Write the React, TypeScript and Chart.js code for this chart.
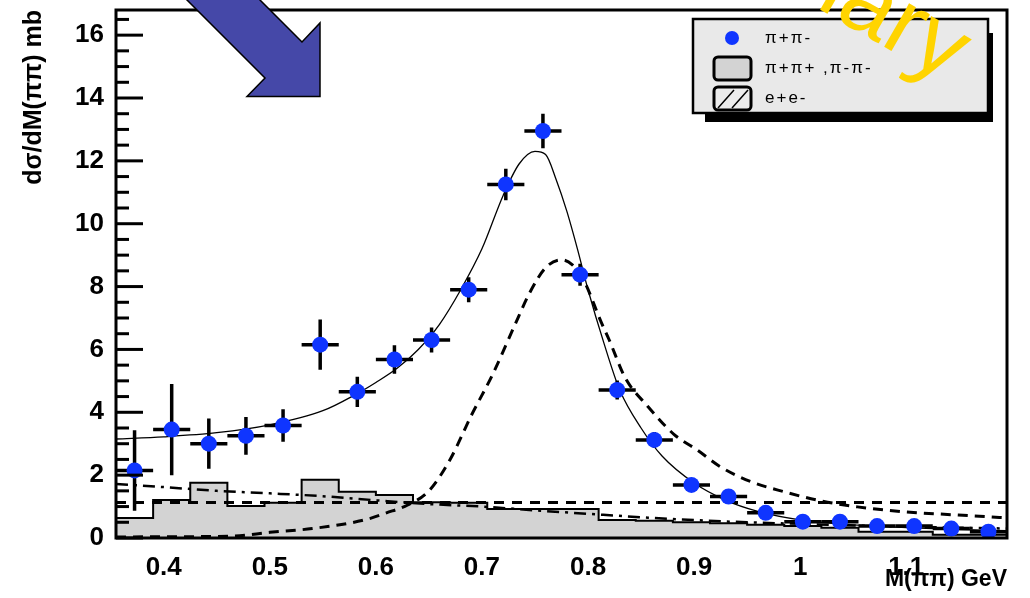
import React, { useEffect, useRef } from "react";
import { Chart, registerables } from "chart.js";

Chart.register(...registerables);

const FONT = '"Liberation Sans", Arial, Helvetica, sans-serif';

// Mass bins (GeV): edges and centres
const binEdges = [
  0.355, 0.39, 0.425, 0.46, 0.495, 0.53, 0.565, 0.6, 0.635, 0.67, 0.705, 0.74, 0.775,
  0.81, 0.845, 0.88, 0.915, 0.95, 0.985, 1.02, 1.055, 1.09, 1.125, 1.16, 1.195,
];
const massCenters = [
  0.3725, 0.4075, 0.4425, 0.4775, 0.5125, 0.5475, 0.5825, 0.6175, 0.6525, 0.6875, 0.7225,
  0.7575, 0.7925, 0.8275, 0.8625, 0.8975, 0.9325, 0.9675, 1.0025, 1.0375, 1.0725, 1.1075,
  1.1425, 1.1775,
];

// pi+pi- cross section (mb) and its errors
const sigmaPiPi = [
  2.15, 3.45, 3.0, 3.25, 3.58, 6.15, 4.65, 5.68, 6.3, 7.9, 11.25, 12.95, 8.38, 4.71, 3.12,
  1.69, 1.32, 0.8, 0.52, 0.52, 0.38, 0.38, 0.3, 0.2,
];
const sigmaErr = [
  1.28, 1.45, 0.8, 0.6, 0.52, 0.8, 0.48, 0.45, 0.4, 0.4, 0.5, 0.55, 0.35, 0.3, 0.25, 0.2,
  0.15, 0.12, 0.1, 0.1, 0.1, 0.1, 0.1, 0.1,
];

// like-sign pairs (pi+pi+, pi-pi-), one value per bin
const likeSign = [
  0.64, 1.21, 1.76, 1.02, 1.12, 1.85, 1.47, 1.37, 1.14, 1.12, 0.92, 0.92, 0.92, 0.57, 0.55,
  0.5, 0.47, 0.42, 0.38, 0.33, 0.2, 0.2, 0.1, 0.1,
];

// total fit
const fitMass = [
  0.355, 0.4, 0.45, 0.5, 0.55, 0.58, 0.6, 0.62, 0.64, 0.66, 0.68, 0.7, 0.72, 0.735, 0.75,
  0.76, 0.77, 0.78, 0.79, 0.8, 0.815, 0.83, 0.85, 0.87, 0.9, 0.93, 0.96, 1.0, 1.05, 1.1,
  1.15, 1.195,
];
const fitTotal = [
  3.15, 3.22, 3.35, 3.6, 4.05, 4.55, 4.95, 5.4, 6.0, 6.8, 7.9, 9.2, 10.9, 11.9, 12.3, 12.2,
  11.4, 10.4, 9.2, 7.9, 6.2, 4.7, 3.5, 2.6, 1.75, 1.2, 0.85, 0.58, 0.42, 0.33, 0.27, 0.23,
];

// rho component
const rhoMass = [
  0.355, 0.4, 0.465, 0.5, 0.54, 0.59, 0.61, 0.63, 0.65, 0.67, 0.69, 0.71, 0.73, 0.745,
  0.76, 0.775, 0.785, 0.796, 0.812, 0.82, 0.835, 0.856, 0.881, 0.903, 0.925, 0.953, 0.985,
  1.017, 1.054, 1.1, 1.149, 1.195,
];
const rhoCurve = [
  0.03, 0.04, 0.06, 0.18, 0.3, 0.58, 0.8, 1.05, 1.5, 2.5, 3.9, 5.2, 6.7, 7.8, 8.6, 8.85,
  8.7, 8.2, 6.9, 6.3, 5.1, 4.2, 3.3, 2.8, 2.26, 1.8, 1.47, 1.2, 0.99, 0.83, 0.73, 0.64,
];

// flat dashed level
const flatMass = [0.355, 1.195];
const flatLevel = [1.13, 1.13];

// dash-dotted background shape
const bkgMass = [
  0.355, 0.4, 0.45, 0.5, 0.55, 0.6, 0.65, 0.7, 0.75, 0.8, 0.85, 0.9, 0.95, 1.0, 1.05, 1.1,
  1.15, 1.195,
];
const bkgCurve = [
  1.72, 1.62, 1.5, 1.42, 1.33, 1.2, 1.08, 1.0, 0.88, 0.77, 0.66, 0.57, 0.5, 0.45, 0.4, 0.36,
  0.33, 0.3,
];

const xTicks = [0.4, 0.5, 0.6, 0.7, 0.8, 0.9, 1.0, 1.1];
const yTicks = [0, 2, 4, 6, 8, 10, 12, 14, 16];

const legendEntries = ["π+π-", "π+π+ ,π-π-", "e+e-"];

const BLUE = "#0f35ff";
const GREY = "#d3d3d3";

const errorBars = {
  id: "errorBars",
  beforeDatasetDraw(chart: any, args: any) {
    if (args.index !== 0) return;
    const { ctx, chartArea, scales } = chart;
    const x = scales.x;
    const y = scales.y;
    ctx.save();
    ctx.beginPath();
    ctx.rect(chartArea.left, chartArea.top, chartArea.right - chartArea.left, chartArea.bottom - chartArea.top);
    ctx.clip();
    ctx.strokeStyle = "#000";
    ctx.lineWidth = 3.5;
    ctx.lineCap = "butt";
    massCenters.forEach((m, i) => {
      const px = x.getPixelForValue(m);
      const py = y.getPixelForValue(sigmaPiPi[i]);
      const x0 = x.getPixelForValue(binEdges[i]);
      const x1 = x.getPixelForValue(binEdges[i + 1]);
      const yt = y.getPixelForValue(sigmaPiPi[i] + sigmaErr[i]);
      const yb = y.getPixelForValue(Math.max(0, sigmaPiPi[i] - sigmaErr[i]));
      ctx.beginPath();
      ctx.moveTo(x0, py);
      ctx.lineTo(x1, py);
      ctx.moveTo(px, yt);
      ctx.lineTo(px, yb);
      ctx.stroke();
    });
    ctx.restore();
  },
};

const frame = {
  id: "frame",
  afterDatasetsDraw(chart: any) {
    const { ctx, chartArea, scales } = chart;
    const y = scales.y;
    const { left, right, top, bottom } = chartArea;
    ctx.save();
    ctx.strokeStyle = "#000";
    ctx.lineWidth = 3;
    ctx.strokeRect(left, top, right - left, bottom - top);
    // y-axis ticks, pointing into the pad
    for (let v = 0; v <= y.max + 1e-9; v += 0.5) {
      const py = y.getPixelForValue(v);
      const major = Math.abs(v / 2 - Math.round(v / 2)) < 1e-6;
      ctx.beginPath();
      ctx.moveTo(left, py);
      ctx.lineTo(left + (major ? 27 : 13), py);
      ctx.stroke();
    }
    ctx.restore();
  },
};

const overlay = {
  id: "overlay",
  afterDraw(chart: any) {
    const { ctx } = chart;
    ctx.save();

    // legend box with drop shadow
    ctx.fillStyle = "#000";
    ctx.fillRect(705, 33, 288, 89);
    ctx.fillStyle = "#e9e9e9";
    ctx.fillRect(693, 19, 295, 94);
    ctx.strokeStyle = "#000";
    ctx.lineWidth = 2.5;
    ctx.strokeRect(693, 19, 295, 94);

    ctx.fillStyle = BLUE;
    ctx.beginPath();
    ctx.arc(732, 38, 7, 0, Math.PI * 2);
    ctx.fill();

    ctx.lineWidth = 3;
    ctx.fillStyle = GREY;
    ctx.beginPath();
    ctx.roundRect(714, 57, 37, 23, 4);
    ctx.fill();
    ctx.stroke();

    ctx.fillStyle = "#ececec";
    ctx.beginPath();
    ctx.roundRect(714, 87, 37, 23, 4);
    ctx.fill();
    ctx.stroke();
    ctx.lineWidth = 1.5;
    ctx.beginPath();
    ctx.moveTo(718, 108);
    ctx.lineTo(734, 90);
    ctx.moveTo(732, 108);
    ctx.lineTo(748, 90);
    ctx.stroke();

    ctx.fillStyle = "#000";
    ctx.font = `17px ${FONT}`;
    (ctx as any).letterSpacing = "2px";
    ctx.textBaseline = "middle";
    ctx.textAlign = "left";
    legendEntries.forEach((t, i) => ctx.fillText(t, 765, 38 + i * 30));
    (ctx as any).letterSpacing = "0px";

    // arrow
    ctx.fillStyle = "#4548a8";
    ctx.strokeStyle = "#000";
    ctx.lineWidth = 1.5;
    ctx.beginPath();
    ctx.moveTo(167, -20);
    ctx.lineTo(265, 78);
    ctx.lineTo(247, 96.5);
    ctx.lineTo(320, 96.5);
    ctx.lineTo(320, 23);
    ctx.lineTo(302, 42);
    ctx.lineTo(240, -20);
    ctx.closePath();
    ctx.fill();
    ctx.stroke();

    // watermark
    ctx.translate(947, 83);
    ctx.rotate((30 * Math.PI) / 180);
    ctx.fillStyle = "#ffd400";
    ctx.font = `95px ${FONT}`;
    ctx.textAlign = "right";
    ctx.textBaseline = "alphabetic";
    ctx.fillText("Preliminary", 0, 0);

    ctx.restore();
  },
};

export default function App() {
  const ref = useRef<HTMLCanvasElement | null>(null);

  useEffect(() => {
    document.body.style.margin = "0";
    const canvas = ref.current;
    if (!canvas) return;

    const line = (xs: number[], ys: number[]) => xs.map((x, i) => ({ x, y: ys[i] }));
    const histData = likeSign.map((v, i) => ({ x: binEdges[i], y: v }));
    histData.push({ x: binEdges[binEdges.length - 1], y: likeSign[likeSign.length - 1] });

    const chart = new Chart(canvas, {
      type: "scatter",
      data: {
        datasets: [
          {
            type: "scatter",
            label: "π+π-",
            data: line(massCenters, sigmaPiPi),
            pointRadius: 8,
            pointBackgroundColor: BLUE,
            pointBorderWidth: 0,
            order: 0,
          } as any,
          {
            type: "line",
            label: "fit",
            data: line(fitMass, fitTotal),
            borderColor: "#000",
            borderWidth: 1.3,
            pointRadius: 0,
            cubicInterpolationMode: "monotone",
            fill: false,
            order: 1,
          },
          {
            type: "line",
            label: "rho",
            data: line(rhoMass, rhoCurve),
            borderColor: "#000",
            borderWidth: 3,
            borderDash: [10, 7],
            pointRadius: 0,
            cubicInterpolationMode: "monotone",
            fill: false,
            order: 2,
          },
          {
            type: "line",
            label: "flat",
            data: line(flatMass, flatLevel),
            borderColor: "#000",
            borderWidth: 3,
            borderDash: [10, 8],
            pointRadius: 0,
            fill: false,
            order: 3,
          },
          {
            type: "line",
            label: "background",
            data: line(bkgMass, bkgCurve),
            borderColor: "#000",
            borderWidth: 2.5,
            borderDash: [12, 6, 3, 6],
            pointRadius: 0,
            cubicInterpolationMode: "monotone",
            fill: false,
            order: 4,
          },
          {
            type: "line",
            label: "π+π+ ,π-π-",
            data: histData,
            stepped: "before",
            borderColor: "#000",
            borderWidth: 2,
            backgroundColor: GREY,
            fill: "origin",
            pointRadius: 0,
            order: 5,
          },
        ],
      },
      options: {
        animation: false,
        responsive: false,
        devicePixelRatio: 1,
        layout: { padding: { top: 10, right: 23, left: 0, bottom: 0 } },
        plugins: {
          legend: { display: false },
          tooltip: { enabled: false },
          title: { display: false },
        },
        scales: {
          x: {
            type: "linear",
            position: "bottom",
            min: 0.355,
            max: 1.195,
            grid: { display: false },
            border: { display: false },
            afterBuildTicks: (s: any) => {
              s.ticks = xTicks.map((v) => ({ value: v }));
            },
            afterFit: (s: any) => {
              s.height = 60;
              s.paddingLeft = 0;
              s.paddingRight = 0;
            },
            ticks: {
              color: "#000",
              font: { family: FONT, size: 26, weight: "bold" },
              padding: 6,
              maxRotation: 0,
              autoSkip: false,
              callback: (v: any) => String(Math.round(Number(v) * 10) / 10),
            },
            title: {
              display: true,
              text: "M(ππ) GeV",
              align: "end",
              color: "#000",
              font: { family: FONT, size: 23, weight: "bold" },
              padding: { top: 0, bottom: 5 },
            },
          },
          y: {
            type: "linear",
            position: "left",
            min: 0,
            max: 16.8,
            grid: { display: false },
            border: { display: false },
            afterBuildTicks: (s: any) => {
              s.ticks = yTicks.map((v) => ({ value: v }));
            },
            afterFit: (s: any) => {
              s.width = 116;
              s.paddingTop = 0;
              s.paddingBottom = 0;
            },
            ticks: {
              color: "#000",
              font: { family: FONT, size: 26, weight: "bold" },
              padding: 4,
              autoSkip: false,
              callback: (v: any) => String(v),
            },
            title: {
              display: true,
              text: "dσ/dM(ππ) mb",
              align: "end",
              color: "#000",
              font: { family: FONT, size: 25, weight: "bold" },
              padding: { top: 19, bottom: 0 },
            },
          },
        },
      },
      plugins: [errorBars, frame, overlay],
    });

    return () => chart.destroy();
  }, []);

  return (
    <div style={{ width: 1030, height: 598 }}>
      <canvas ref={ref} width={1030} height={598} style={{ display: "block" }} />
    </div>
  );
}
